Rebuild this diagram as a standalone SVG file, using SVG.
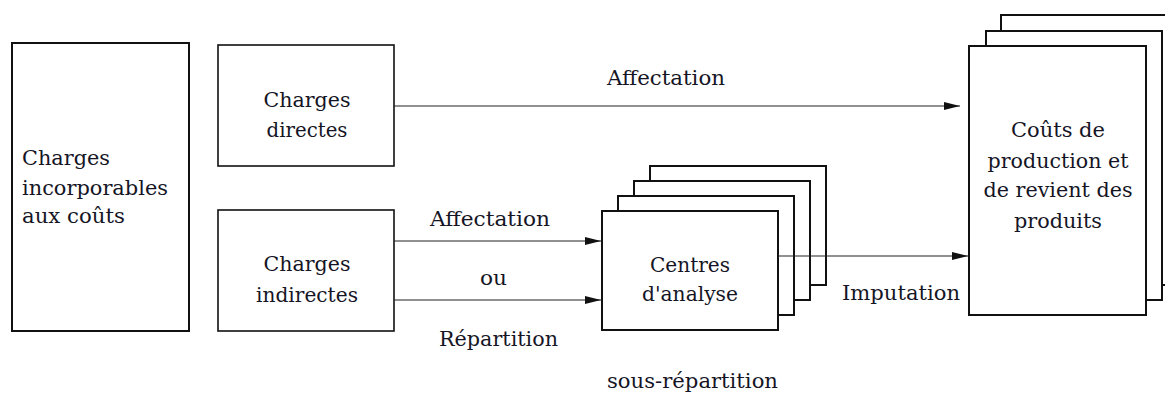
<svg xmlns="http://www.w3.org/2000/svg" width="1165" height="394" viewBox="0 0 1165 394">
<defs>
<style>
.box{fill:#fff;stroke:#111;stroke-width:2}
.thin{fill:#fff;stroke:#111;stroke-width:1.6}
.c{text-anchor:middle}
.ln{stroke:#222;stroke-width:1.2;fill:none}
</style>
<marker id="ah" viewBox="0 0 16 8" refX="16" refY="4" markerWidth="16" markerHeight="8" markerUnits="userSpaceOnUse" orient="auto">
<path d="M0,0 L16,4 L0,8 Z" fill="#111"/>
</marker>
</defs>
<rect width="1165" height="394" fill="#fff"/>
<g font-family="'DejaVu Serif', 'Liberation Serif', serif" font-size="20" fill="#151525">

<g id="charges-incorporables">
<rect class="box" x="12" y="43" width="177" height="288"/>
<text x="22" y="165" textLength="88" lengthAdjust="spacingAndGlyphs">Charges</text>
<text x="22" y="195" textLength="146" lengthAdjust="spacingAndGlyphs">incorporables</text>
<text x="22" y="223" textLength="103" lengthAdjust="spacingAndGlyphs">aux coûts</text>
</g>

<g id="charges-directes">
<rect class="thin" x="218" y="45" width="176" height="121"/>
<text class="c" x="307" y="107" textLength="87" lengthAdjust="spacingAndGlyphs">Charges</text>
<text class="c" x="307" y="137" textLength="81" lengthAdjust="spacingAndGlyphs">directes</text>
</g>

<g id="charges-indirectes">
<rect class="thin" x="218" y="210" width="176" height="121"/>
<text class="c" x="307" y="271" textLength="87" lengthAdjust="spacingAndGlyphs">Charges</text>
<text class="c" x="307" y="302" textLength="102" lengthAdjust="spacingAndGlyphs">indirectes</text>
</g>

<g id="centres-analyse">
<rect class="box" x="650" y="166" width="176" height="119"/>
<rect class="box" x="634" y="181" width="176" height="119"/>
<rect class="box" x="618" y="196" width="176" height="119"/>
<rect class="box" x="602" y="211" width="176" height="119"/>
<text class="c" x="690" y="272" textLength="80" lengthAdjust="spacingAndGlyphs">Centres</text>
<text class="c" x="690" y="301" textLength="96" lengthAdjust="spacingAndGlyphs">d'analyse</text>
</g>

<g id="couts-produits">
<rect class="box" x="1001" y="15" width="177" height="270"/>
<rect class="box" x="986" y="31" width="176" height="269"/>
<rect class="box" x="969" y="46" width="177" height="269"/>
<text class="c" x="1058" y="137" textLength="94" lengthAdjust="spacingAndGlyphs">Coûts de</text>
<text class="c" x="1058" y="168" textLength="141" lengthAdjust="spacingAndGlyphs">production et</text>
<text class="c" x="1058" y="197" textLength="149" lengthAdjust="spacingAndGlyphs">de revient des</text>
<text class="c" x="1058" y="228" textLength="88" lengthAdjust="spacingAndGlyphs">produits</text>
</g>

<g id="connectors">
<line class="ln" x1="394" y1="106" x2="960" y2="106" marker-end="url(#ah)"/>
<line class="ln" x1="394" y1="241" x2="601" y2="241" marker-end="url(#ah)"/>
<line class="ln" x1="394" y1="300" x2="601" y2="300" marker-end="url(#ah)"/>
<line class="ln" x1="778" y1="256" x2="968" y2="256" marker-end="url(#ah)"/>
<text x="607" y="85" textLength="118" lengthAdjust="spacingAndGlyphs">Affectation</text>
<text x="430" y="226" textLength="120" lengthAdjust="spacingAndGlyphs">Affectation</text>
<text x="480" y="285" textLength="27" lengthAdjust="spacingAndGlyphs">ou</text>
<text x="439" y="346" textLength="119" lengthAdjust="spacingAndGlyphs">Répartition</text>
<text x="607" y="388" textLength="171" lengthAdjust="spacingAndGlyphs">sous-répartition</text>
<text x="842" y="300" textLength="118" lengthAdjust="spacingAndGlyphs">Imputation</text>
</g>
</g>
</svg>
